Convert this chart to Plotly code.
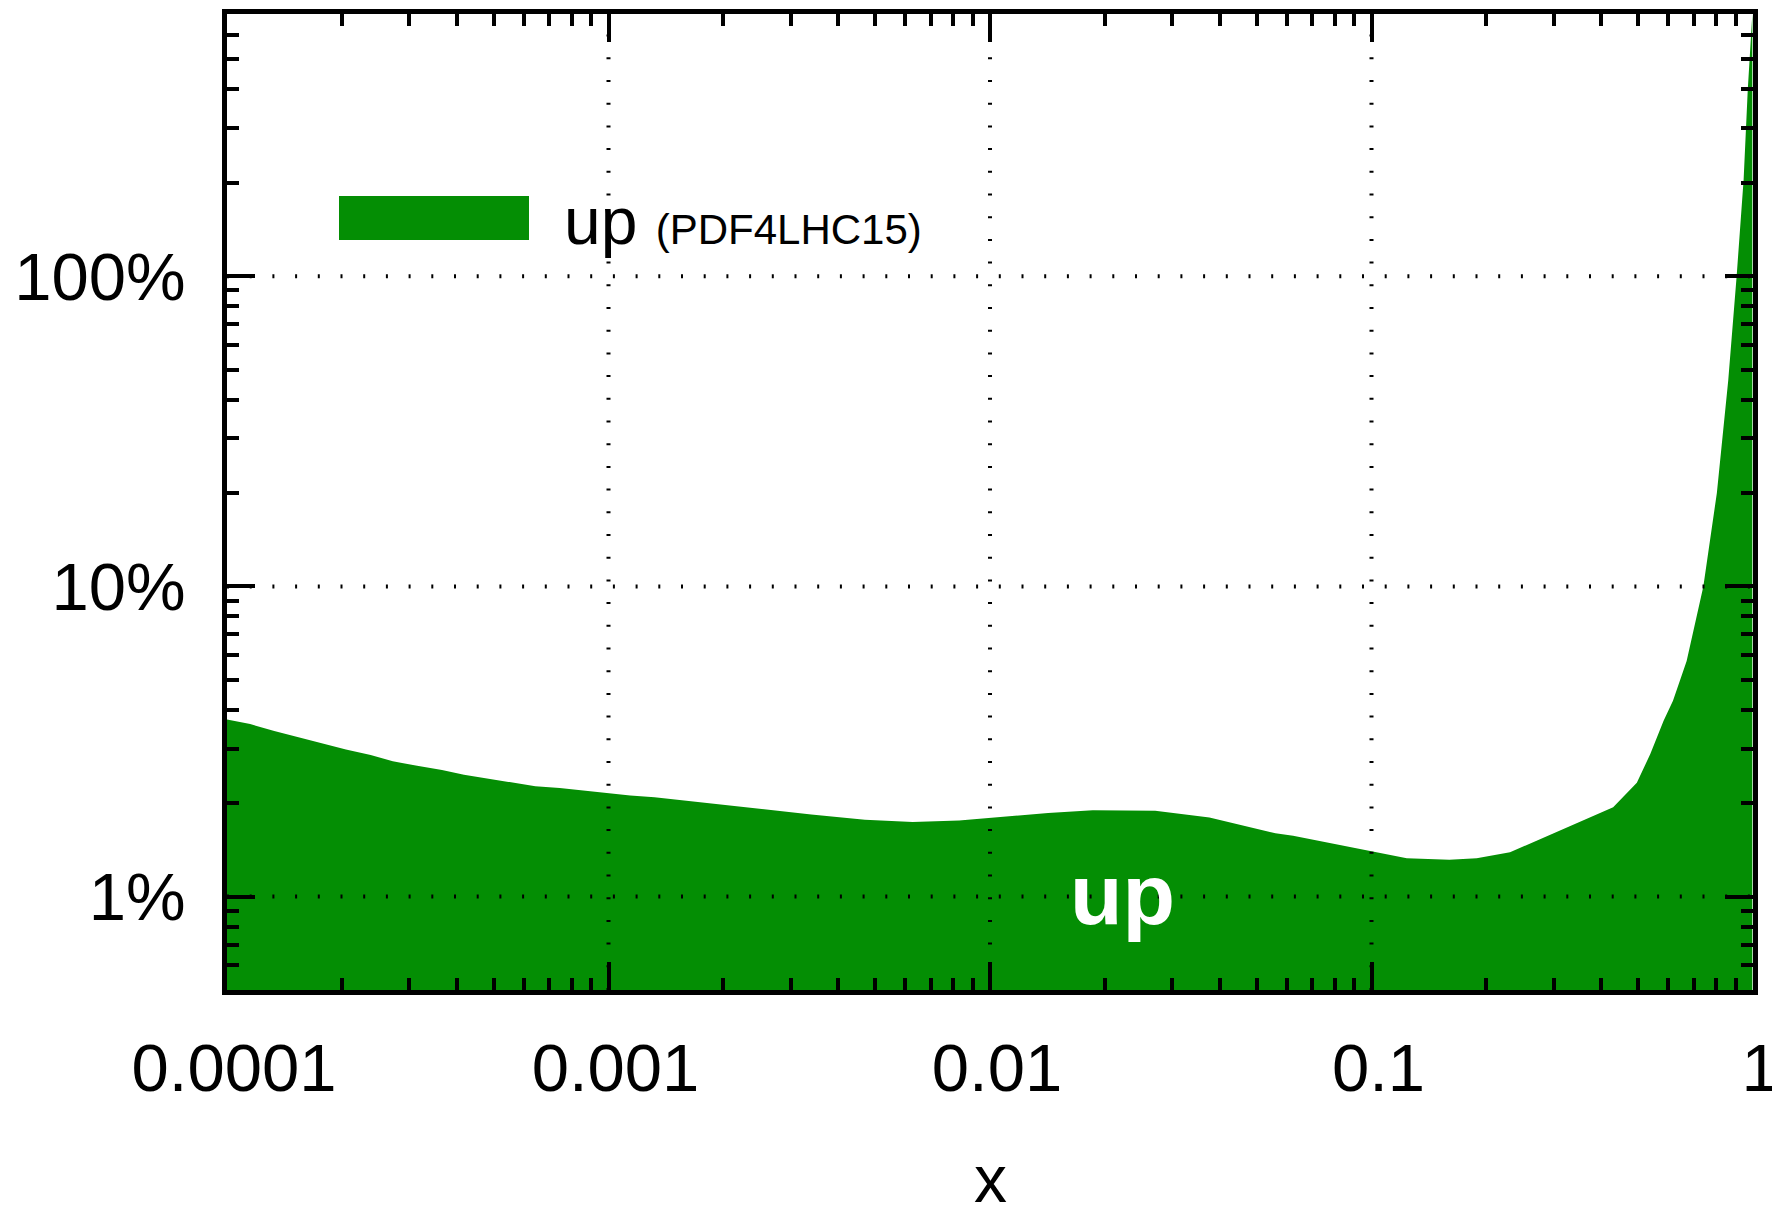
import math
import plotly.graph_objects as go

# ---- data ----
x_vals = [1.0e-4, 1.15e-4, 1.33e-4, 1.54e-4, 1.77e-4, 2.05e-4, 2.38e-4, 2.72e-4, 3.15e-4,
          3.66e-4, 4.18e-4, 4.84e-4, 5.54e-4, 6.43e-4, 7.45e-4, 8.55e-4, 9.92e-4, 1.14e-3,
          1.32e-3, 1.52e-3, 1.74e-3, 2.67e-3, 3.4e-3, 4.70e-3, 6.27e-3, 8.30e-3, 1.08e-2,
          1.42e-2, 1.86e-2, 2.71e-2, 3.76e-2, 4.40e-2, 5.6e-2, 6.23e-2, 8.6e-2, 0.0999,
          0.1237, 0.160, 0.1887, 0.2307, 0.2655, 0.312, 0.374, 0.430, 0.496, 0.538, 0.583,
          0.617, 0.670, 0.712, 0.741, 0.804, 0.861, 0.906, 0.945, 0.969, 0.985, 0.996]
unc_pct = [3.72, 3.60, 3.42, 3.26, 3.11, 2.98, 2.86, 2.73, 2.64,
           2.56, 2.47, 2.40, 2.34, 2.27, 2.24, 2.20, 2.15, 2.12,
           2.09, 2.05, 2.01, 1.90, 1.84, 1.77, 1.74, 1.76, 1.81,
           1.86, 1.90, 1.89, 1.80, 1.72, 1.60, 1.57, 1.45, 1.40,
           1.33, 1.315, 1.33, 1.39, 1.50, 1.63, 1.80, 1.94, 2.33, 2.88, 3.69,
           4.28, 5.75, 7.94, 10.0, 20.0, 46.0, 100, 205, 400, 590, 700]

series_name = "up"
series_set = "(PDF4LHC15)"
x_title = "x"
x_major = [0.001, 0.01, 0.1]
y_major = [1, 10, 100]

GREEN = "#048e04"
FONT = "Liberation Sans, Arial, sans-serif"

fig = go.Figure()
fig.add_trace(go.Scatter(
    x=x_vals, y=unc_pct, mode="lines", fill="tozeroy",
    fillcolor=GREEN, line=dict(width=0, color=GREEN), showlegend=False,
    hoverinfo="skip",
))

axis_common = dict(
    type="log", showline=True, linewidth=5, linecolor="black", mirror="allticks",
    ticks="inside", ticklen=28, tickwidth=4, tickcolor="black",
    showgrid=False, zeroline=False, automargin=False,
    tickfont=dict(family=FONT, size=67, color="black"),
    exponentformat="none", ticklabeloverflow="allow",
    minor=dict(ticks="inside", ticklen=12, tickwidth=4, tickcolor="black",
               dtick="D1", showgrid=False),
)

fig.update_xaxes(**axis_common, range=[-4, 0], dtick=1, tick0=0,
                 ticklabelstandoff=16, ticklabelshift=7)
fig.update_yaxes(**axis_common, range=[math.log10(0.5), math.log10(700)], dtick=1, tick0=0,
                 ticksuffix="%", ticklabelstandoff=23)

# dotted grid drawn above the fill
grid_line = dict(color="black", width=4, dash="2px,20.7px")
shapes = []
for xv in x_major:
    shapes.append(dict(type="line", xref="x", yref="paper", x0=xv, x1=xv, y0=0, y1=1,
                       line=grid_line, layer="above"))
for yv in y_major:
    shapes.append(dict(type="line", xref="paper", yref="y", x0=0, x1=1, y0=yv, y1=yv,
                       line=grid_line, layer="above"))
# legend swatch
shapes.append(dict(type="rect", xref="paper", yref="paper", x0=0.0734, x1=0.1979,
                   y0=0.7684, y1=0.8135, fillcolor=GREEN, line=dict(width=0), layer="above"))

annotations = [
    dict(xref="paper", yref="paper", x=0.2195, y=0.788, xanchor="left", yanchor="middle",
         showarrow=False,
         text=f"{series_name} <span style='font-size:42px'>{series_set}</span>",
         font=dict(family=FONT, size=66, color="black")),
    dict(xref="x", yref="y", x=math.log10(0.0223), y=math.log10(1.02),
         xanchor="center", yanchor="middle", showarrow=False,
         text=f"<b>{series_name}</b>", font=dict(family=FONT, size=86, color="white")),
    # x-axis title
    dict(xref="paper", yref="paper", x=0.5, y=-0.234, xanchor="center", yanchor="bottom",
         showarrow=False, text=x_title,
         font=dict(family=FONT, size=66, color="black")),
]

fig.update_layout(
    width=1772, height=1211,
    margin=dict(l=227, r=19, t=14, b=221, pad=0),
    paper_bgcolor="white", plot_bgcolor="white",
    showlegend=False, shapes=shapes, annotations=annotations,
)

# remove the default page margin so the figure sits exactly in the window
fig.write_html("out.html",
               config={"displayModeBar": False, "staticPlot": True},
               post_script="document.body.style.margin='0';"
                           "document.body.style.overflow='hidden';")
